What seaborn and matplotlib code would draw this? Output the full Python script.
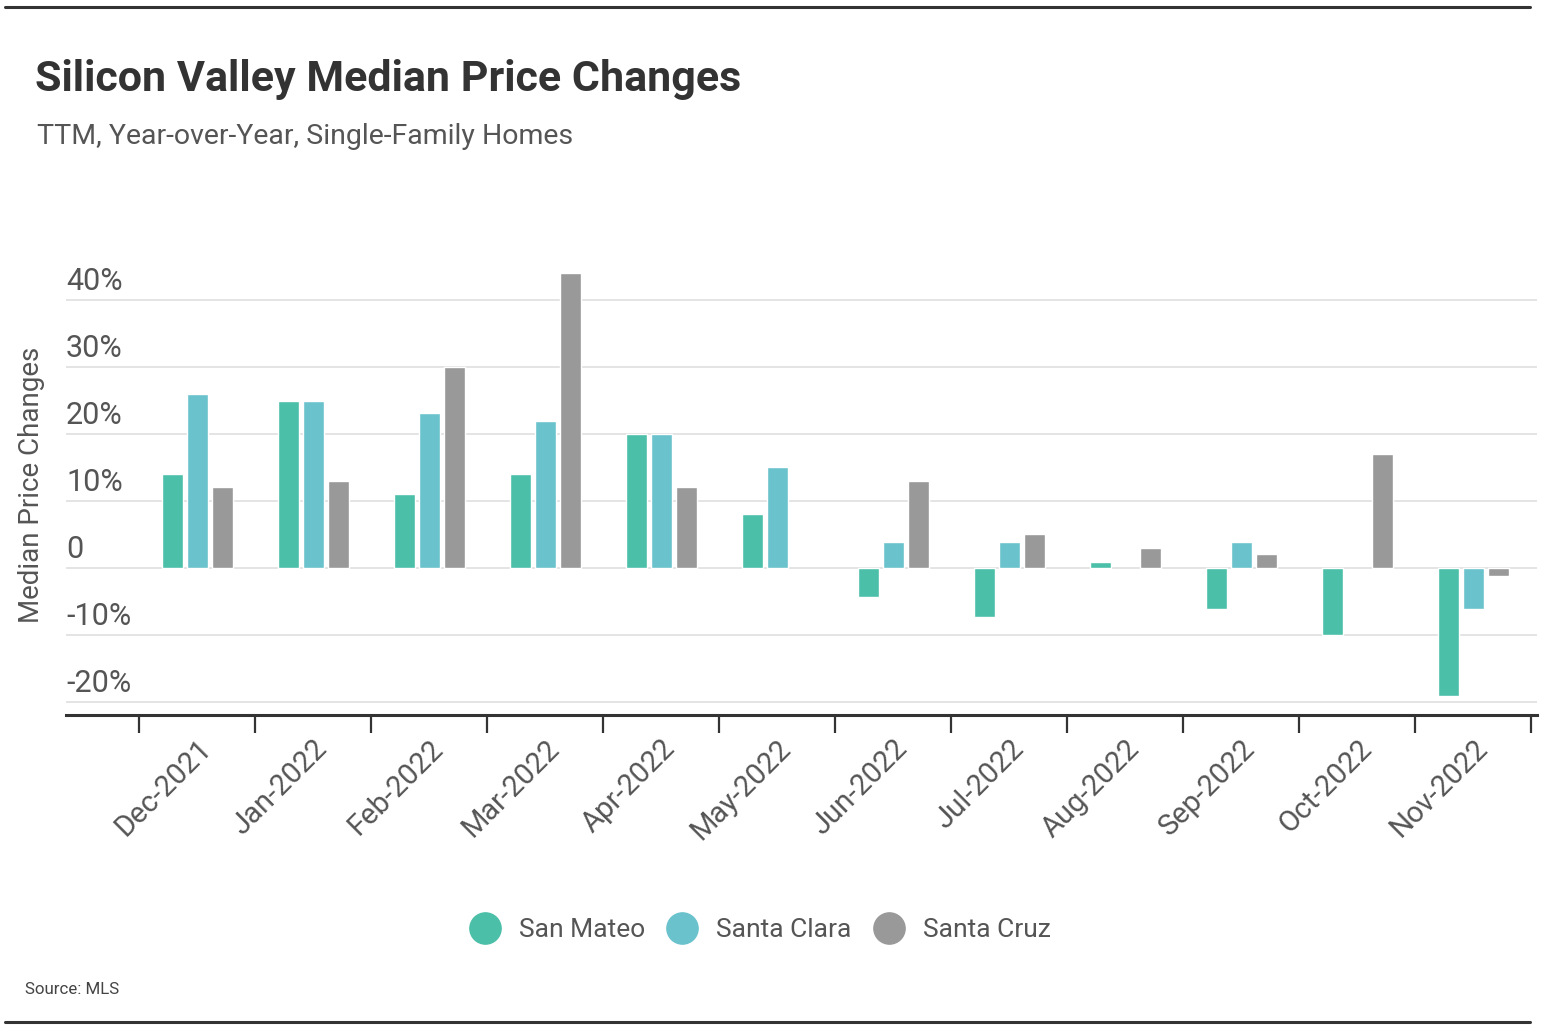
import numpy as np
import pandas as pd
import matplotlib
matplotlib.use('Agg')
import matplotlib.pyplot as plt
import seaborn as sns
from matplotlib.lines import Line2D
from matplotlib import font_manager

# data (percent, year over year)
months = ['Dec-2021', 'Jan-2022', 'Feb-2022', 'Mar-2022', 'Apr-2022', 'May-2022',
          'Jun-2022', 'Jul-2022', 'Aug-2022', 'Sep-2022', 'Oct-2022', 'Nov-2022']
san_mateo = [14, 25, 11, 14, 20, 8, -4.3, -7.3, 0.9, -6.2, -10, -19.2]
santa_clara = [26, 25, 23.2, 22, 20, 15, 3.9, 3.9, np.nan, 3.9, np.nan, -6.2]
santa_cruz = [12, 13, 30, 44, 12, np.nan, 13, 5, 3, 2, 17, -1.2]
counties = ['San Mateo', 'Santa Clara', 'Santa Cruz']
colors = ['#4CBFA8', '#6AC2CD', '#999999']
y_ticks = [-20, -10, 0, 10, 20, 30, 40]
y_labels = ['-20%', '-10%', '0', '10%', '20%', '30%', '40%']

sns.set_theme(style='white')
# condensed font if we have one
installed = {f.name for f in font_manager.fontManager.ttflist}
narrow = 'Liberation Sans Narrow' if 'Liberation Sans Narrow' in installed else 'Roboto'
plt.rcParams['font.family'] = [narrow, 'DejaVu Sans']

df = pd.DataFrame({
    'month': months * 3,
    'county': np.repeat(counties, len(months)),
    'change': san_mateo + santa_clara + santa_cruz,
})

W, H = 1550, 1030
fig = plt.figure(figsize=(W / 100, H / 100), dpi=100)
ax = fig.add_axes([66 / W, 1 - 715 / H, (1537 - 66) / W, (715 - 260) / H])

sns.barplot(data=df, x='month', y='change', hue='county', order=months, hue_order=counties,
            palette=colors, saturation=1, width=0.647, gap=0.16, errorbar=None,
            legend=False, ax=ax)

ax.set_xlim(-1.13, 11.55)
ax.set_ylim(-22, 46)
for s in ['top', 'right', 'left']:
    ax.spines[s].set_visible(False)
ax.spines['bottom'].set_color('#333333')
ax.spines['bottom'].set_linewidth(2.2)
ax.yaxis.grid(True, color='#e2e2e2', linewidth=1.3)
ax.set_axisbelow(True)
ax.set_xlabel('')
ax.set_ylabel('')

# y labels sit on top of the grid lines, left aligned
ax.set_yticks(y_ticks)
ax.tick_params(axis='y', length=0, labelleft=False)
for v, lab in zip(y_ticks, y_labels):
    ax.annotate(lab, xy=(0, v), xycoords=ax.get_yaxis_transform(), xytext=(0, 7),
                textcoords='offset points', ha='left', va='baseline',
                fontsize=22, color='#555555')

# ticks between months, labels under the month centres
ax.set_xticks(np.arange(-0.5, len(months), 1))
ax.set_xticklabels([])
ax.set_xticks(range(len(months)), minor=True)
ax.set_xticklabels(months, minor=True, rotation=45, ha='right', va='top',
                   rotation_mode='anchor')
ax.tick_params(axis='x', which='major', bottom=True, length=13, width=1.6,
               color='#333333', direction='out')
ax.tick_params(axis='x', which='minor', bottom=True, length=0, pad=14,
               labelsize=21, labelcolor='#555555')

fig.text(32 / W, 1 - 485 / H, 'Median Price Changes', rotation=90, ha='center', va='center',
         fontsize=20, color='#555555')
fig.text(35 / W, 1 - 79 / H, 'Silicon Valley Median Price Changes', fontsize=31,
         fontweight='bold', color='#333333', va='center')
fig.text(37 / W, 1 - 136 / H, 'TTM, Year-over-Year, Single-Family Homes', fontsize=20.5,
         color='#555555', va='center')
fig.text(25 / W, 1 - 990 / H, 'Source: MLS', fontsize=12.2, color='#444444', va='center')

# rules at top and bottom
for y in [7, 1022]:
    fig.add_artist(Line2D([5 / W, 1530 / W], [1 - y / H, 1 - y / H], color='#333333',
                          linewidth=2.2, transform=fig.transFigure))

handles = [Line2D([], [], marker='o', linestyle='', markersize=22.5,
                  markerfacecolor=c, markeredgecolor=c) for c in colors]
fig.legend(handles, counties, loc='center', bbox_to_anchor=(761 / W, 1 - 930 / H), ncol=3,
           frameon=False, fontsize=19, labelcolor='#555555', handletextpad=0.8,
           columnspacing=0.9, handlelength=1)

fig.savefig('out.png', dpi=100)
